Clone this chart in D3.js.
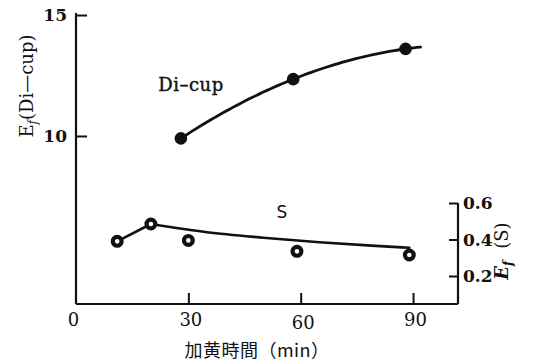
<!DOCTYPE html>
<html>
<head>
<meta charset="utf-8">
<script src="https://cdn.jsdelivr.net/npm/d3@7"></script>
<style>
  html, body { margin: 0; padding: 0; background: #fff; }
  svg { display: block; }
</style>
</head>
<body>
<svg id="chart" width="537" height="362"></svg>
<script>
// Vulcanisation time (min) and measured E_f values
const dicupTime = [28, 58, 88];
const dicupValue = [9.9, 12.35, 13.6];
const sTime = [11, 20, 30, 59, 89];
const sValue = [0.39, 0.485, 0.395, 0.335, 0.315];
// Hand-drawn trend line for the S series (after its peak)
const sTrendTime = [20, 35, 50, 65, 80, 89];
const sTrendValue = [0.485, 0.44, 0.41, 0.385, 0.365, 0.355];

const xTicks = [0, 30, 60, 90];
const leftTicks = [10, 15];
const rightTicks = [0.2, 0.4, 0.6];

const svg = d3.select("#chart");
const ink = "#111";
const serif = "'DejaVu Serif', 'Liberation Serif', serif";

const x = d3.scaleLinear().domain([0, 102]).range([76, 458]);
const yLeft = d3.scaleLinear().domain([10, 15]).range([136, 15]);
const yRight = d3.scaleLinear().domain([0.2, 0.6]).range([276, 203]);
const baseY = 304;

// Frame: left axis, bottom axis, right axis
const frame = svg.append("g").attr("stroke", ink).attr("stroke-width", 2.2).attr("fill", "none");
frame.append("line").attr("x1", x(0)).attr("x2", x(0)).attr("y1", yLeft(15) - 2).attr("y2", baseY);
frame.append("line").attr("x1", x(0)).attr("x2", x(102)).attr("y1", baseY).attr("y2", baseY);
frame.append("line").attr("x1", x(102)).attr("x2", x(102)).attr("y1", yRight(0.6)).attr("y2", baseY);

// Bottom axis ticks pointing inward
const xAxis = d3.axisBottom(x).tickValues(xTicks).tickSizeInner(-11).tickSizeOuter(0).tickPadding(19)
  .tickFormat(d3.format("d"));
const gx = svg.append("g").attr("transform", `translate(0,${baseY})`).call(xAxis);
gx.attr("font-family", serif);
gx.select(".domain").remove();
gx.selectAll(".tick line").attr("stroke", ink).attr("stroke-width", 2).filter(d => d === 0).remove();
gx.selectAll(".tick text").attr("fill", ink).attr("font-size", 18).attr("dy", d => d === 60 ? "0.32em" : "0.15em")
  .attr("dx", d => d === 0 ? -3 : 2);

// Left axis (Di-cup)
const leftAxis = d3.axisLeft(yLeft).tickValues(leftTicks).tickSizeInner(-11).tickSizeOuter(0).tickPadding(9)
  .tickFormat(d3.format("d"));
const gl = svg.append("g").attr("transform", `translate(${x(0)},0)`).call(leftAxis);
gl.attr("font-family", serif);
gl.select(".domain").remove();
gl.selectAll(".tick line").attr("stroke", ink).attr("stroke-width", 2);
gl.selectAll(".tick text").attr("fill", ink).attr("font-size", 17).attr("font-weight", "bold").attr("dy", "0.3em");

// Right axis (S)
const rightAxis = d3.axisRight(yRight).tickValues(rightTicks).tickSizeInner(-9).tickSizeOuter(0).tickPadding(5)
  .tickFormat(d3.format(".1f"));
const gr = svg.append("g").attr("transform", `translate(${x(102)},0)`).call(rightAxis);
gr.attr("font-family", serif);
gr.select(".domain").remove();
gr.selectAll(".tick line").attr("stroke", ink).attr("stroke-width", 2);
gr.selectAll(".tick text").attr("fill", ink).attr("font-size", 17).attr("font-weight", "bold")
  .attr("dy", "0.35em");

// Di-cup: smooth quadratic through the three measurements, run slightly past the last one
const [t0, t1, t2] = dicupTime, [v0, v1, v2] = dicupValue;
const quad = t => v0 * ((t - t1) * (t - t2)) / ((t0 - t1) * (t0 - t2))
               + v1 * ((t - t0) * (t - t2)) / ((t1 - t0) * (t1 - t2))
               + v2 * ((t - t0) * (t - t1)) / ((t2 - t0) * (t2 - t1));
const dicupCurve = d3.range(t0, t2 + 4.01, 1).map(t => [t, quad(t)]);
svg.append("path").datum(dicupCurve)
  .attr("fill", "none").attr("stroke", ink).attr("stroke-width", 2.8).attr("stroke-linecap", "round")
  .attr("d", d3.line().x(d => x(d[0])).y(d => yLeft(d[1])).curve(d3.curveBasis));

svg.append("g").selectAll("circle").data(dicupTime.map((t, i) => [t, dicupValue[i]])).join("circle")
  .attr("cx", d => x(d[0])).attr("cy", d => yLeft(d[1])).attr("r", 6.3).attr("fill", ink);

// S: straight rise to the peak, then the smoothed trend
const sPts = sTime.map((t, i) => [t, sValue[i]]);
svg.append("path").datum(sPts.slice(0, 2))
  .attr("fill", "none").attr("stroke", ink).attr("stroke-width", 2.6)
  .attr("d", d3.line().x(d => x(d[0])).y(d => yRight(d[1])));
svg.append("path").datum(sTrendTime.map((t, i) => [t, sTrendValue[i]]))
  .attr("fill", "none").attr("stroke", ink).attr("stroke-width", 2.6).attr("stroke-linecap", "round")
  .attr("d", d3.line().x(d => x(d[0])).y(d => yRight(d[1])).curve(d3.curveMonotoneX));

svg.append("g").selectAll("circle").data(sPts).join("circle")
  .attr("cx", d => x(d[0])).attr("cy", d => yRight(d[1])).attr("r", 4.4)
  .attr("fill", "#fff").attr("stroke", ink).attr("stroke-width", 4.2);

// Series labels
svg.append("text").attr("x", 191).attr("y", 91).attr("text-anchor", "middle")
  .attr("font-family", serif).attr("font-size", 18).attr("letter-spacing", "0.5px")
  .attr("stroke", ink).attr("stroke-width", 0.4)
  .attr("fill", ink).text("Di–cup");
svg.append("text").attr("x", 282).attr("y", 218).attr("text-anchor", "middle")
  .attr("font-family", "'DejaVu Sans', sans-serif").attr("font-size", 17)
  .attr("fill", ink).text("S");

// Axis titles
const leftTitle = svg.append("text").attr("transform", "translate(33,86) rotate(-90)")
  .attr("text-anchor", "middle").attr("font-family", serif).attr("font-size", 18).attr("fill", ink);
leftTitle.append("tspan").text("E");
leftTitle.append("tspan").attr("font-style", "italic").attr("font-size", 12).attr("dy", 4).text("f");
leftTitle.append("tspan").attr("dy", -4).text("(Di—cup)");

const rightTitle = svg.append("text").attr("transform", "translate(508,251) rotate(-90)")
  .attr("text-anchor", "middle").attr("font-family", serif).attr("font-size", 18)
  .attr("font-weight", "bold").attr("fill", ink);
rightTitle.append("tspan").attr("font-style", "italic").text("E");
rightTitle.append("tspan").attr("font-style", "italic").attr("font-size", 12).attr("dy", 4).text("f");
rightTitle.append("tspan").attr("dy", -4).attr("dx", 12).attr("font-weight", "normal").text("(S)");

svg.append("text").attr("x", 257).attr("y", 357).attr("text-anchor", "middle")
  .attr("font-family", "'Noto Sans CJK JP', sans-serif").attr("font-size", 18).attr("fill", ink)
  .attr("letter-spacing", "0.5px")
  .text("加黄時間（min）");
</script>
</body>
</html>
